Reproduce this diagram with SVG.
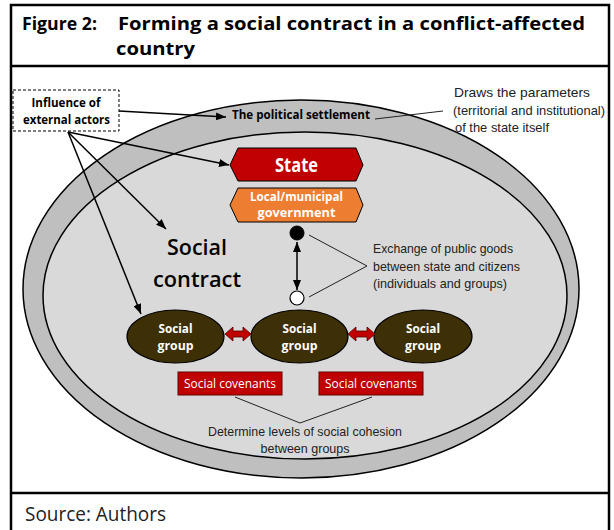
<svg xmlns="http://www.w3.org/2000/svg" width="614" height="530" viewBox="0 0 614 530">
<defs>
<marker id="ah" viewBox="0 0 10 8" refX="10" refY="4" markerWidth="10" markerHeight="8" markerUnits="userSpaceOnUse" orient="auto-start-reverse">
<path d="M0,0 L10,4 L0,8 z" fill="#000"/>
</marker>
<style>
text{font-family:"Open Sans","Liberation Sans",sans-serif}
.b{font-weight:700}
.w{fill:#fff}
.ann{font-family:"Liberation Sans","Open Sans",sans-serif;font-size:13px;fill:#222}
.conn{stroke:#000;stroke-width:1.5;fill:none}
.thin{stroke:#222;stroke-width:1;fill:none}
.grp{fill:#3d2f06;stroke:#000;stroke-width:1.2}
.cov{fill:#c00000;stroke:#600;stroke-width:1}
.dbl{fill:#c00000;stroke:#500;stroke-width:0.8}
</style>
</defs>
<rect x="0" y="0" width="614" height="530" fill="#fff"/>
<g id="frame">
<rect x="11" y="5" width="598" height="540" fill="none" stroke="#000" stroke-width="2.5"/>
<line x1="11" y1="66" x2="609" y2="66" stroke="#000" stroke-width="2.5"/>
<line x1="11" y1="493" x2="609" y2="493" stroke="#000" stroke-width="2.5"/>
</g>
<g id="title">
<text class="b" x="22" y="30" font-size="18" textLength="75" lengthAdjust="spacingAndGlyphs">Figure 2:</text>
<text class="b" x="118" y="30" font-size="18" textLength="467" lengthAdjust="spacingAndGlyphs">Forming a social contract in a conflict-affected</text>
<text class="b" x="116" y="55" font-size="18" textLength="79" lengthAdjust="spacingAndGlyphs">country</text>
</g>
<g id="political-settlement">
<ellipse cx="301" cy="289" rx="278" ry="189" fill="#bfbfbf" stroke="#000" stroke-width="1.5"/>
<ellipse cx="305" cy="295.5" rx="262" ry="163.5" fill="#d9d9d9" stroke="#000" stroke-width="1.5"/>
<text class="b" x="301" y="119" font-size="13" text-anchor="middle" textLength="138" lengthAdjust="spacingAndGlyphs">The political settlement</text>
</g>
<g id="external-actors">
<rect x="13" y="90" width="106" height="41" fill="#fff" stroke="#000" stroke-width="1" stroke-dasharray="3,2"/>
<text class="b" x="66" y="107" font-size="12.5" text-anchor="middle" textLength="69" lengthAdjust="spacingAndGlyphs">Influence of</text>
<text class="b" x="66.5" y="124" font-size="12.5" text-anchor="middle" textLength="87" lengthAdjust="spacingAndGlyphs">external actors</text>
</g>
<g id="state">
<polygon points="230,165 238,148 356,148 363,165 356,181 238,181" fill="#c00000" stroke="#000" stroke-width="1"/>
<text class="b w" x="296.5" y="172" font-size="19" text-anchor="middle" textLength="43" lengthAdjust="spacingAndGlyphs">State</text>
</g>
<g id="local-government">
<polygon points="230,205 238,188 356,188 363,205 356,222 238,222" fill="#ed7d31" stroke="#000" stroke-width="1"/>
<text class="b w" x="296.5" y="201" font-size="12" text-anchor="middle" textLength="93" lengthAdjust="spacingAndGlyphs">Local/municipal</text>
<text class="b w" x="296.5" y="216.5" font-size="12" text-anchor="middle" textLength="78" lengthAdjust="spacingAndGlyphs">government</text>
</g>
<g id="social-contract">
<text x="197" y="255" font-size="22" font-weight="600" text-anchor="middle" textLength="60" lengthAdjust="spacingAndGlyphs">Social</text>
<text x="197" y="287" font-size="22" font-weight="600" text-anchor="middle" textLength="88" lengthAdjust="spacingAndGlyphs">contract</text>
</g>
<g id="state-dot"><circle cx="297" cy="233" r="7" fill="#000" stroke="#000"/></g>
<g id="citizen-dot"><circle cx="297" cy="298" r="7" fill="#fff" stroke="#000" stroke-width="1.2"/></g>
<g id="social-group-1">
<ellipse class="grp" cx="175.5" cy="336.5" rx="48.5" ry="26.5"/>
<text class="b w" x="175.5" y="333" font-size="13" text-anchor="middle" textLength="34" lengthAdjust="spacingAndGlyphs">Social</text>
<text class="b w" x="175.5" y="350" font-size="13" text-anchor="middle" textLength="36" lengthAdjust="spacingAndGlyphs">group</text>
</g>
<g id="social-group-2">
<ellipse class="grp" cx="299.5" cy="336.5" rx="48.5" ry="26.5"/>
<text class="b w" x="299.5" y="333" font-size="13" text-anchor="middle" textLength="34" lengthAdjust="spacingAndGlyphs">Social</text>
<text class="b w" x="299.5" y="350" font-size="13" text-anchor="middle" textLength="36" lengthAdjust="spacingAndGlyphs">group</text>
</g>
<g id="social-group-3">
<ellipse class="grp" cx="423" cy="336.5" rx="49" ry="26.5"/>
<text class="b w" x="423" y="333" font-size="13" text-anchor="middle" textLength="34" lengthAdjust="spacingAndGlyphs">Social</text>
<text class="b w" x="423" y="350" font-size="13" text-anchor="middle" textLength="36" lengthAdjust="spacingAndGlyphs">group</text>
</g>
<g id="social-covenants-1">
<rect class="cov" x="178" y="372" width="104" height="23"/>
<text class="w" x="230" y="388" font-size="13" text-anchor="middle" textLength="92" lengthAdjust="spacingAndGlyphs">Social covenants</text>
</g>
<g id="social-covenants-2">
<rect class="cov" x="319" y="372" width="104" height="23"/>
<text class="w" x="371" y="388" font-size="13" text-anchor="middle" textLength="92" lengthAdjust="spacingAndGlyphs">Social covenants</text>
</g>
<g id="note-parameters">
<text class="ann" x="454" y="97" textLength="136" lengthAdjust="spacingAndGlyphs">Draws the parameters</text>
<text class="ann" x="453" y="115" textLength="152" lengthAdjust="spacingAndGlyphs">(territorial and institutional)</text>
<text class="ann" x="455" y="132" textLength="94" lengthAdjust="spacingAndGlyphs">of the state itself</text>
</g>
<g id="note-exchange">
<text class="ann" x="373" y="253" textLength="140" lengthAdjust="spacingAndGlyphs">Exchange of public goods</text>
<text class="ann" x="373" y="271" textLength="147" lengthAdjust="spacingAndGlyphs">between state and citizens</text>
<text class="ann" x="373" y="288" textLength="134" lengthAdjust="spacingAndGlyphs">(individuals and groups)</text>
</g>
<g id="note-cohesion">
<text class="ann" x="305" y="436" font-size="12.5" text-anchor="middle" textLength="194" lengthAdjust="spacingAndGlyphs">Determine levels of social cohesion</text>
<text class="ann" x="305" y="453" font-size="12.5" text-anchor="middle" textLength="89" lengthAdjust="spacingAndGlyphs">between groups</text>
</g>
<g id="source">
<text x="25" y="521" font-size="20" fill="#222" textLength="141" lengthAdjust="spacingAndGlyphs">Source: Authors</text>
</g>
<g id="connectors">
<line class="conn" x1="119" y1="111" x2="226" y2="117" marker-end="url(#ah)"/>
<line class="conn" x1="68" y1="132" x2="229" y2="165" marker-end="url(#ah)"/>
<line class="conn" x1="68" y1="132" x2="166" y2="229" marker-end="url(#ah)"/>
<line class="conn" x1="68" y1="132" x2="141" y2="314" marker-end="url(#ah)"/>
<line class="conn" x1="297" y1="242" x2="297" y2="290" marker-start="url(#ah)" marker-end="url(#ah)"/>
<line class="thin" x1="375" y1="119" x2="443" y2="111"/>
<polyline class="thin" points="309,235 367,266 309,297"/>
<polyline class="thin" points="235,397 300,423 372,397"/>
<polygon class="dbl" points="225,334 233,327 233,331 243,331 243,327 251,334 243,341 243,337 233,337 233,341"/>
<polygon class="dbl" points="348,334 356,327 356,331 367,331 367,327 375,334 367,341 367,337 356,337 356,341"/>
</g>
</svg>
